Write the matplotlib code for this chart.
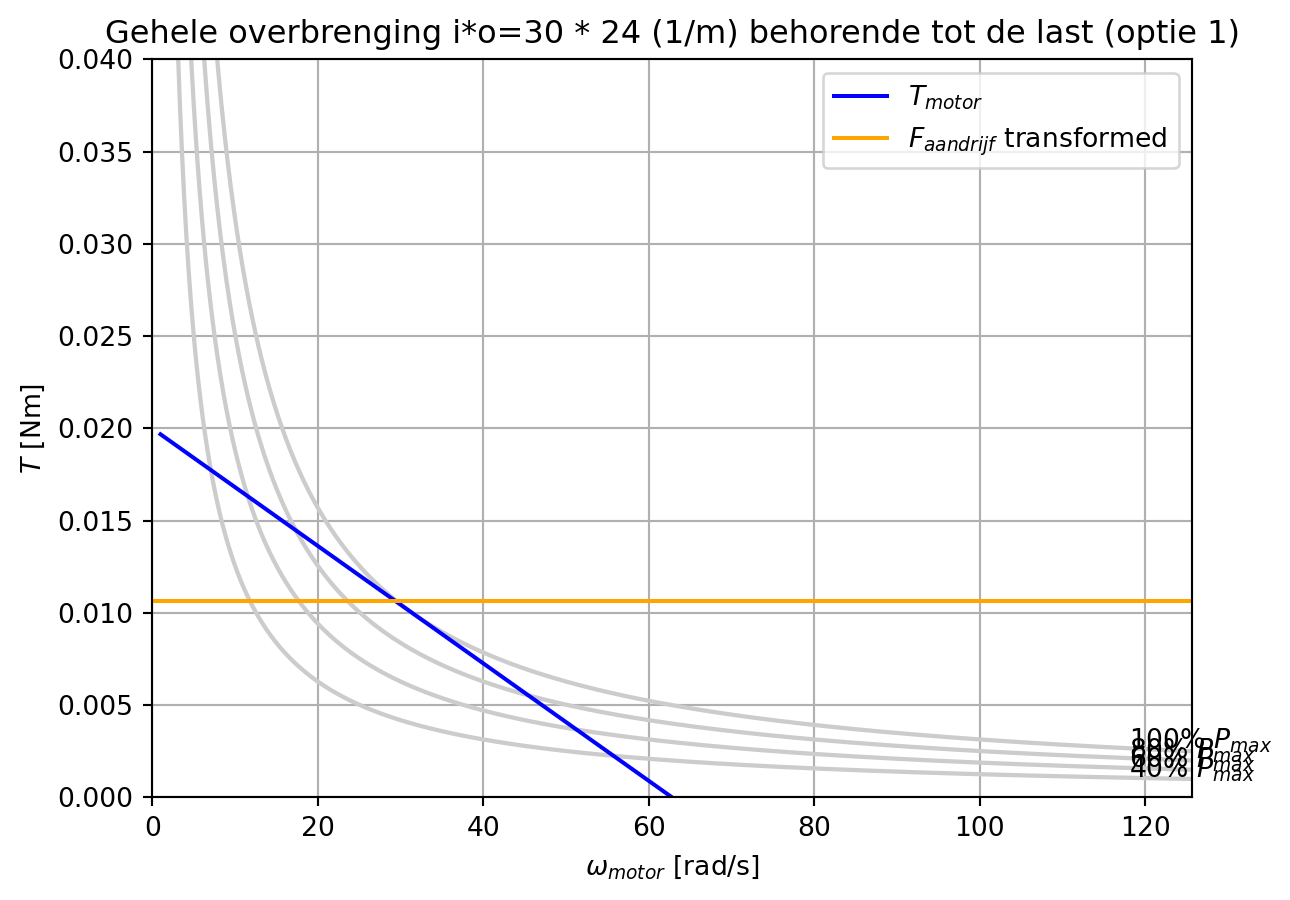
import numpy as np
import matplotlib
matplotlib.use("Agg")
import matplotlib.pyplot as plt

# motor characteristic
T_stall = 0.0200        # Nm
omega_noload = 62.83    # rad/s
omega_start = 1.0
P_max = T_stall * omega_noload / 4   # W

# constant power levels
p_levels = [1.0, 0.8, 0.6, 0.4]
p_labels = ["100% $P_{max}$", "80% $P_{max}$", "60% $P_{max}$", "40% $P_{max}$"]

# load torque transformed to the motor side
T_load = 0.01065

# motor line end points
omega_motor = [omega_start, omega_noload]
T_motor = [T_stall * (1 - omega_start / omega_noload), 0.0]

omega_max = 2 * omega_noload
omega = np.linspace(omega_start, omega_max, 1000)
label_x = 118

fig, ax = plt.subplots(figsize=(1290 / 192, 900 / 192), dpi=192)
fig.subplots_adjust(left=0.118, right=0.924, bottom=0.114, top=0.934)

for p, lab in zip(p_levels, p_labels):
    T_p = p * P_max / omega
    ax.plot(omega, T_p, color="0.8", lw=1.6)
    ax.text(label_x, p * P_max / label_x, lab, clip_on=False)

ax.plot(omega_motor, T_motor, color="blue", label="$T_{motor}$")
ax.plot([0, omega_max], [T_load, T_load], color="orange",
        label="$F_{aandrijf}$ transformed")

ax.set_xlim(0, omega_max)
ax.set_ylim(0, 0.04)
ax.set_xlabel(r"$\omega_{motor}$ [rad/s]")
ax.set_ylabel("$T$ [Nm]")
ax.set_title("Gehele overbrenging i*o=30 * 24 (1/m) behorende tot de last (optie 1)")
ax.grid(True)
ax.legend(loc="upper right")

fig.savefig("out.png")
